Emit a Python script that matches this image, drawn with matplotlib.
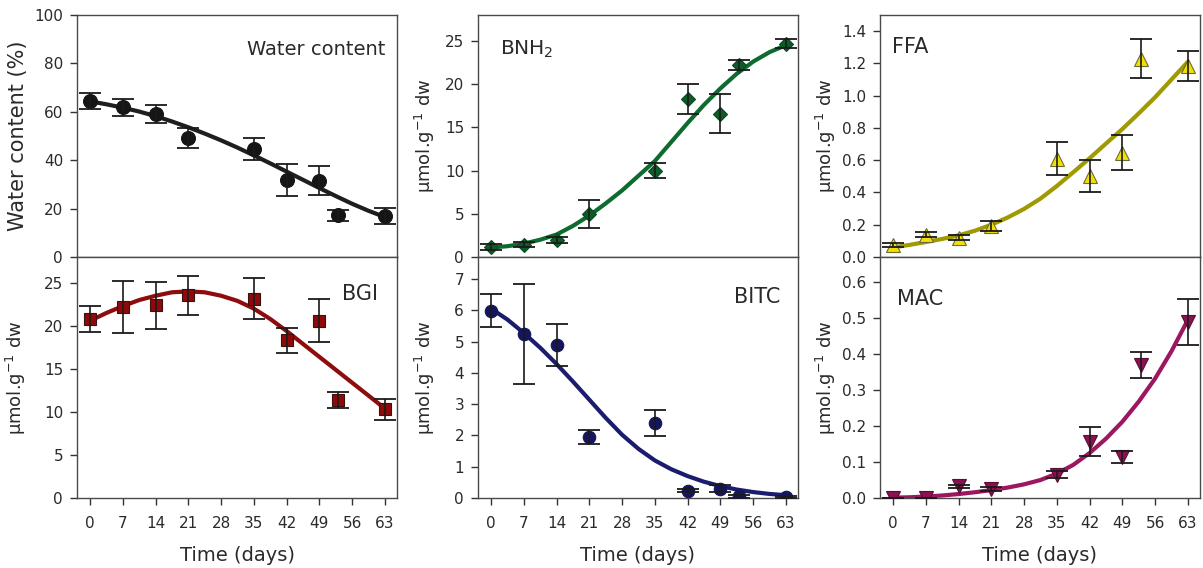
import numpy as np
import matplotlib
matplotlib.use("Agg")
import matplotlib.pyplot as plt
from matplotlib.ticker import FormatStrFormatter

# ---------------- data ----------------
days = [0, 7, 14, 21, 35, 42, 49, 53, 63]
xticks = [0, 7, 14, 21, 28, 35, 42, 49, 56, 63]
curve_days = [0, 3.5, 7, 10.5, 14, 17.5, 21, 24.5, 28, 31.5, 35, 38.5,
              42, 45.5, 49, 52.5, 56, 59.5, 63]

water = [64.5, 61.8, 59.1, 49.1, 44.6, 31.9, 31.6, 17.2, 16.8]
water_err = [3.3, 3.5, 3.8, 4.0, 4.7, 6.5, 6.0, 2.3, 3.3]
water_fit = [64.3, 63.1, 61.7, 60.1, 58.2, 56.0, 53.6, 51.0, 48.2, 45.2, 42.0,
             38.7, 35.3, 31.9, 28.5, 25.2, 22.0, 19.1, 16.5]

bnh2 = [1.16, 1.43, 2.0, 5.0, 10.0, 18.3, 16.6, 22.2, 24.7]
bnh2_err = [0.3, 0.25, 0.35, 1.6, 0.85, 1.7, 2.3, 0.6, 0.5]
bnh2_fit = [1.1, 1.25, 1.55, 2.0, 2.6, 3.6, 4.8, 6.2, 7.7, 9.4, 11.1, 13.3,
            15.5, 17.6, 19.5, 21.2, 22.6, 23.7, 24.5]

ffa = [0.072, 0.139, 0.12, 0.192, 0.61, 0.50, 0.647, 1.23, 1.183]
ffa_err = [0.012, 0.015, 0.015, 0.033, 0.10, 0.10, 0.11, 0.12, 0.095]
ffa_fit = [0.06, 0.075, 0.093, 0.112, 0.134, 0.163, 0.2, 0.245, 0.298, 0.362,
           0.44, 0.525, 0.612, 0.703, 0.793, 0.89, 0.99, 1.1, 1.21]

bgi = [20.83, 22.18, 22.38, 23.53, 23.15, 18.3, 20.6, 11.4, 10.3]
bgi_err = [1.5, 3.0, 2.7, 2.3, 2.4, 1.5, 2.5, 0.95, 1.2]
bgi_fit = [20.6, 21.5, 22.3, 23.0, 23.5, 23.9, 24.0, 23.9, 23.5, 22.9, 22.0,
           20.8, 19.4, 17.9, 16.4, 14.9, 13.4, 11.9, 10.4]

bitc = [5.99, 5.24, 4.89, 1.94, 2.39, 0.23, 0.30, 0.05, 0.03]
bitc_err = [0.54, 1.6, 0.66, 0.23, 0.42, 0.05, 0.1, 0.05, 0.03]
bitc_fit = [6.05, 5.7, 5.27, 4.8, 4.28, 3.72, 3.14, 2.56, 2.02, 1.57, 1.2, 0.92,
            0.7, 0.52, 0.38, 0.27, 0.19, 0.13, 0.09]

mac = [0.0, 0.0, 0.032, 0.025, 0.065, 0.157, 0.114, 0.37, 0.49]
mac_err = [0.0, 0.0, 0.005, 0.006, 0.01, 0.039, 0.016, 0.036, 0.064]
mac_fit = [0.001, 0.002, 0.004, 0.007, 0.011, 0.016, 0.022, 0.029, 0.038, 0.05,
           0.068, 0.092, 0.125, 0.165, 0.212, 0.268, 0.332, 0.408, 0.495]

unit_label = "µmol.g$^{-1}$ dw"

panels = [
    dict(v=water, e=water_err, f=water_fit, m="o", fc="#151515", ec="#151515", lc="#1e1e1e",
         ylim=(0, 100), yt=[0, 20, 40, 60, 80, 100], fmt="%d", yl="Water content (%)", ylfs=15,
         t="Water content", tp=(0.9625, 0.835), ha="right", tfs=14, ms=10),
    dict(v=bnh2, e=bnh2_err, f=bnh2_fit, m="D", fc="#0d5c28", ec="#0a4a20", lc="#0e6b30",
         ylim=(0, 28), yt=[0, 5, 10, 15, 20, 25], fmt="%d", yl=unit_label, ylfs=13,
         t="BNH$_2$", tp=(0.069, 0.835), ha="left", tfs=14.5, ms=7.5),
    dict(v=ffa, e=ffa_err, f=ffa_fit, m="^", fc="#f2e000", ec="#6b6b3a", lc="#9e9a00",
         ylim=(0, 1.5), yt=[0, 0.2, 0.4, 0.6, 0.8, 1.0, 1.2, 1.4], fmt="%.1f", yl=unit_label, ylfs=13,
         t="FFA", tp=(0.037, 0.843), ha="left", tfs=15, ms=10),
    dict(v=bgi, e=bgi_err, f=bgi_fit, m="s", fc="#8e0a0a", ec="#3a1010", lc="#8e0c0c",
         ylim=(0, 28), yt=[0, 5, 10, 15, 20, 25], fmt="%d", yl=unit_label, ylfs=13,
         t="BGI", tp=(0.94, 0.82), ha="right", tfs=15, ms=8.5),
    dict(v=bitc, e=bitc_err, f=bitc_fit, m="o", fc="#15155c", ec="#15155c", lc="#1c1c6e",
         ylim=(0, 7.7), yt=[0, 1, 2, 3, 4, 5, 6, 7], fmt="%d", yl=unit_label, ylfs=13,
         t="BITC", tp=(0.944, 0.81), ha="right", tfs=15, ms=9),
    dict(v=mac, e=mac_err, f=mac_fit, m="v", fc="#8c1150", ec="#5a0c35", lc="#9c1660",
         ylim=(0, 0.67), yt=[0, 0.1, 0.2, 0.3, 0.4, 0.5, 0.6], fmt="%.1f", yl=unit_label, ylfs=13,
         t="MAC", tp=(0.053, 0.80), ha="left", tfs=15, ms=10),
]

W, H = 1203, 568
fig = plt.figure(figsize=(W / 100, H / 100), dpi=100)
col_left = [77, 478, 880]
col_w = 320
rows = [(15, 257), (257, 498)]
ylab_x = [-0.153, -0.128, -0.131]
txt_col = "#2a2a2a"

for i, p in enumerate(panels):
    r, c = divmod(i, 3)
    top, bot = rows[r]
    ax = fig.add_axes([col_left[c] / W, (H - bot) / H, col_w / W, (bot - top) / H])
    ax.plot(curve_days, p["f"], color=p["lc"], lw=3.0, zorder=2,
            solid_capstyle="round", solid_joinstyle="round")
    ax.plot(days, p["v"], linestyle="none", marker=p["m"], ms=p["ms"],
            mfc=p["fc"], mec=p["ec"], mew=0.8, zorder=3)
    ax.errorbar(days, p["v"], yerr=p["e"], fmt="none", ecolor="#1a1a1a",
                elinewidth=1.2, capsize=8, capthick=1.3, zorder=4)
    ax.set_xlim(-2.8, 65.6)
    ax.set_ylim(*p["ylim"])
    ax.set_xticks(xticks)
    ax.set_yticks(p["yt"])
    ax.yaxis.set_major_formatter(FormatStrFormatter(p["fmt"]))
    ax.tick_params(direction="out", length=5, width=1, colors="#333333",
                   labelcolor=txt_col, labelsize=11, pad=5)
    if r == 0:
        ax.tick_params(axis="x", labelbottom=False)
    else:
        ax.tick_params(axis="x", pad=8)
        ax.set_xlabel("Time (days)", fontsize=14, color=txt_col)
        ax.xaxis.set_label_coords(0.5, -0.2)
    for s in ax.spines.values():
        s.set_color("#4a4a4a")
        s.set_linewidth(1.0)
    ax.set_ylabel(p["yl"], fontsize=p["ylfs"], color=txt_col)
    ax.yaxis.set_label_coords(ylab_x[c], 0.5)
    ax.text(p["tp"][0], p["tp"][1], p["t"], transform=ax.transAxes, ha=p["ha"],
            va="baseline", fontsize=p["tfs"], color=txt_col)

fig.savefig("out.png", dpi=100)
